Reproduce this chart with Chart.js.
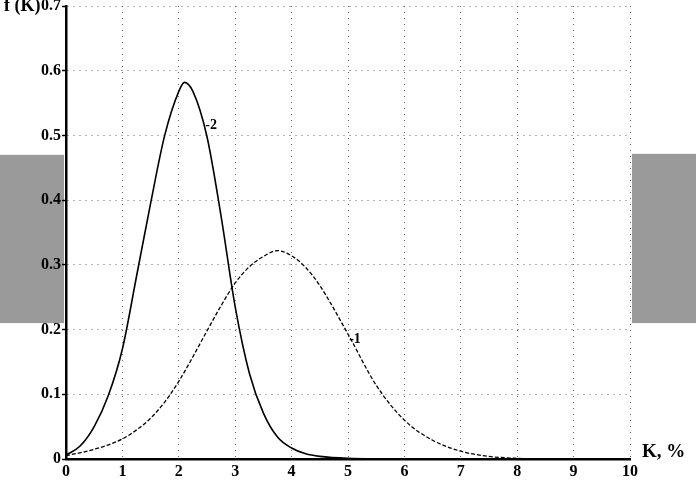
<!DOCTYPE html>
<html>
<head>
<meta charset="utf-8">
<script src="https://cdn.jsdelivr.net/npm/chart.js@4/dist/chart.umd.min.js"></script>
<style>
  html, body { margin: 0; padding: 0; background: #fff; }
  #wrap { width: 696px; height: 486px; position: relative; }
</style>
</head>
<body>
<div id="wrap"><canvas id="chart"></canvas></div>
<script>
// -----------------------------
// DATA
// -----------------------------
const curve1K = [0, 0.5, 1, 1.25, 1.5, 1.75, 2, 2.25, 2.5, 2.75, 3, 3.25, 3.5, 3.75, 4, 4.25, 4.5, 5, 5.5, 6, 6.5, 7, 7.5, 8, 8.5, 10];
const curve1F = [0.005, 0.015, 0.031, 0.045, 0.063, 0.088, 0.12, 0.158, 0.198, 0.237, 0.272, 0.297, 0.313, 0.322, 0.314, 0.296, 0.268, 0.193, 0.114, 0.06, 0.029, 0.012, 0.004, 0.001, 0, 0];

const curve2K = [0, 0.25, 0.5, 0.75, 1, 1.25, 1.5, 1.75, 2, 2.1, 2.25, 2.5, 2.75, 3, 3.25, 3.5, 3.75, 4, 4.25, 4.5, 5, 6, 10];
const curve2F = [0.006, 0.02, 0.05, 0.098, 0.17, 0.282, 0.395, 0.5, 0.568, 0.582, 0.568, 0.498, 0.375, 0.235, 0.133, 0.071, 0.034, 0.017, 0.008, 0.004, 0.001, 0, 0];

const xTicks = [0, 1, 2, 3, 4, 5, 6, 7, 8, 9, 10];
const yTicks = [0, 0.1, 0.2, 0.3, 0.4, 0.5, 0.6, 0.7];

const yTitle = 'f (K)';
const xTitle = 'K, %';
const curveLabels = [
    { text: '-2', k: 2.47, f: 0.515 },
    { text: '-1', k: 5.02, f: 0.185 }
];

const SERIF = '"Liberation Serif", "DejaVu Serif", serif';

function toPoints(xs, ys) {
    return xs.map((x, i) => ({ x: x, y: ys[i] }));
}

// -----------------------------
// PLUGINS: scan grey blocks + text annotations
// -----------------------------
const scanBlocks = {
    id: 'scanBlocks',
    beforeDraw(chart) {
        const { ctx, chartArea, scales } = chart;
        const top = scales.y.getPixelForValue(0.47);
        const bottom = scales.y.getPixelForValue(0.21);
        ctx.save();
        ctx.fillStyle = '#9a9a9a';
        ctx.fillRect(0, top, chartArea.left - 2, bottom - top);
        ctx.fillRect(chartArea.right + 2, top - 1, chart.width - chartArea.right - 2, bottom - top + 1);
        ctx.restore();
    }
};

const annotations = {
    id: 'annotations',
    afterDraw(chart) {
        const { ctx, chartArea, scales } = chart;
        ctx.save();
        ctx.fillStyle = '#000';
        ctx.textBaseline = 'alphabetic';
        ctx.font = 'bold 18px ' + SERIF;
        ctx.textAlign = 'left';
        ctx.fillText(yTitle, 4, 11);
        ctx.font = 'bold 19px ' + SERIF;
        ctx.textBaseline = 'middle';
        ctx.fillText(xTitle, chartArea.right + 12, chartArea.bottom - 7);

        ctx.font = 'bold 14px ' + SERIF;
        curveLabels.forEach(l => {
            ctx.fillText(l.text, scales.x.getPixelForValue(l.k), scales.y.getPixelForValue(l.f));
        });
        ctx.restore();
    }
};

// -----------------------------
// RENDER
// -----------------------------
function renderChart() {
    const canvas = document.getElementById('chart');
    canvas.width = 696;
    canvas.height = 486;

    new Chart(canvas, {
        type: 'line',
        data: {
            datasets: [
                {
                    label: '1',
                    data: toPoints(curve1K, curve1F),
                    borderColor: '#000',
                    borderWidth: 1.3,
                    borderDash: [4, 2],
                    pointRadius: 0,
                    fill: false,
                    cubicInterpolationMode: 'monotone'
                },
                {
                    label: '2',
                    data: toPoints(curve2K, curve2F),
                    borderColor: '#000',
                    borderWidth: 1.6,
                    pointRadius: 0,
                    fill: false,
                    cubicInterpolationMode: 'monotone'
                }
            ]
        },
        options: {
            responsive: false,
            animation: false,
            devicePixelRatio: 1,
            layout: { padding: { left: 0, right: 66, top: 6, bottom: 0 } },
            plugins: {
                legend: { display: false },
                tooltip: { enabled: false }
            },
            scales: {
                x: {
                    type: 'linear',
                    min: 0,
                    max: 10,
                    afterFit: s => { s.height = 27; },
                    afterBuildTicks: s => { s.ticks = xTicks.map(v => ({ value: v })); },
                    border: { display: true, color: '#000', width: 2.5, dash: [1, 5] },
                    grid: {
                        color: '#666',
                        lineWidth: 1,
                        drawTicks: false
                    },
                    ticks: {
                        color: '#000',
                        padding: 3,
                        maxRotation: 0,
                        font: { family: SERIF, size: 16, weight: 'bold' },
                        callback: v => String(v)
                    }
                },
                y: {
                    type: 'linear',
                    min: 0,
                    max: 0.7,
                    afterFit: s => { s.width = 66; s.paddingTop = 0; },
                    afterBuildTicks: s => { s.ticks = yTicks.map(v => ({ value: v })); },
                    border: { display: true, color: '#000', width: 2.5, dash: [1, 5] },
                    grid: {
                        color: '#666',
                        lineWidth: 1,
                        drawTicks: true,
                        tickLength: 4,
                        tickColor: '#000',
                        tickWidth: 1.5,
                        tickBorderDash: []
                    },
                    ticks: {
                        color: '#000',
                        padding: 1,
                        font: { family: SERIF, size: 16, weight: 'bold' },
                        callback: v => String(Math.round(v * 10) / 10)
                    }
                }
            }
        },
        plugins: [scanBlocks, annotations]
    });
}

document.addEventListener('DOMContentLoaded', renderChart);
</script>
</body>
</html>
